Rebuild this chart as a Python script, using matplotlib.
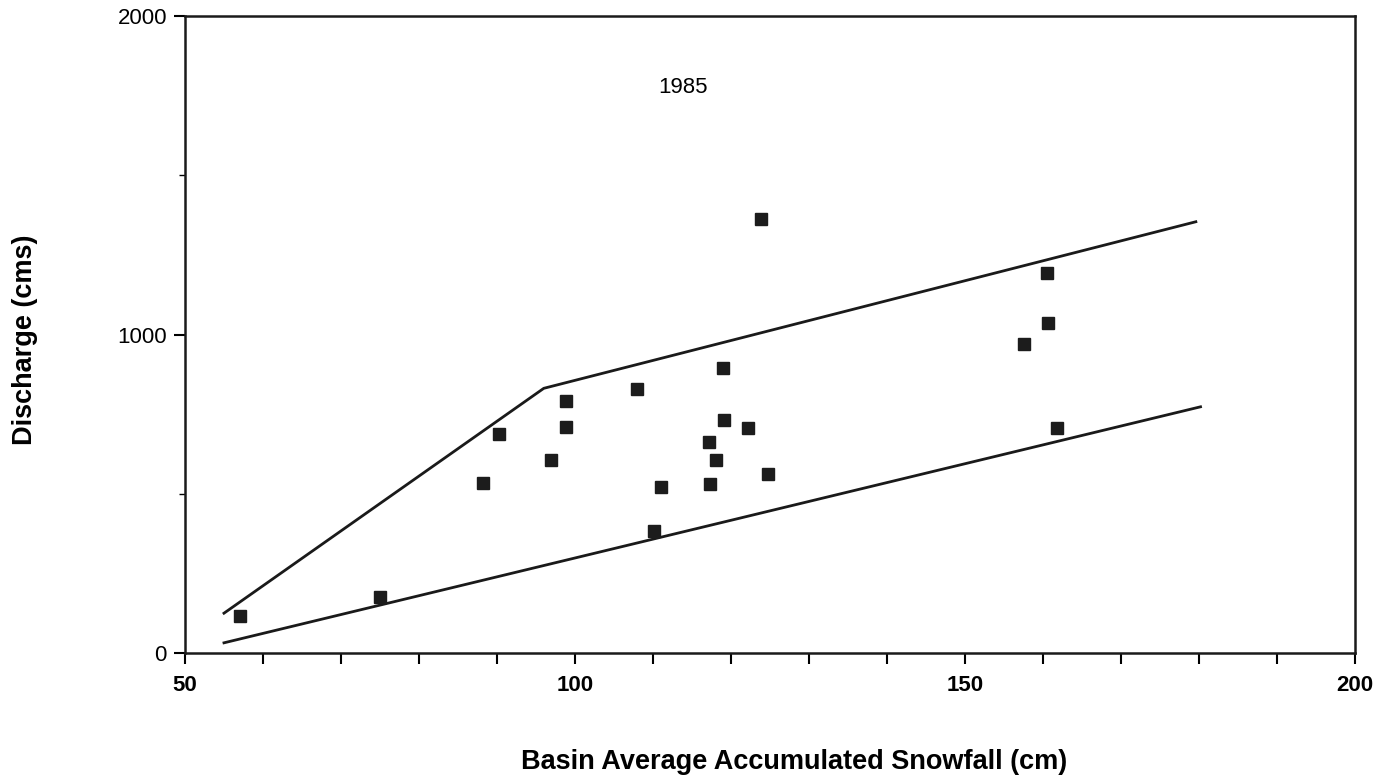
import numpy as np
import matplotlib
matplotlib.use('Agg')
import matplotlib.pyplot as plt
from matplotlib.ticker import MultipleLocator

plt.rcParams['font.family'] = ['Liberation Sans', 'DejaVu Sans']

# ---- Data Section ------------------------------------
# basin average accumulated snowfall (cm) vs. discharge (cms), 1985
snowfall = [57.0, 75.0, 88.2, 90.2, 96.9, 98.8, 98.9, 107.9, 111.0, 110.1,
            119.0, 119.1, 117.2, 118.1, 117.3, 122.2, 124.7, 123.9,
            160.5, 160.7, 157.6, 161.8]
discharge = [116, 176, 535, 688, 606, 792, 711, 829, 522, 383,
             896, 733, 663, 606, 532, 705, 561, 1362,
             1192, 1035, 970, 705]

# envelope lines drawn around the scatter
upper_x = [55.0, 96.0, 179.6]
upper_y = [125, 831, 1354]
lower_x = [55.0, 180.2]
lower_y = [32, 773]

year_label = '1985'
x_ticks = [50, 100, 150, 200]
y_ticks = [0, 1000, 2000]
# ------------------------------------------------------

fig = plt.figure(figsize=(13.95, 7.8), dpi=100)
ax = fig.add_axes([0.1326, 0.1628, 0.8387, 0.8167])

ax.plot(upper_x, upper_y, color='#1a1a1a', lw=2.0)
ax.plot(lower_x, lower_y, color='#1a1a1a', lw=2.0)
ax.plot(snowfall, discharge, ls='none', marker='s', ms=9,
        mfc='#1c1c1c', mec='#1c1c1c')

ax.text(113.8, 1775, year_label, ha='center', va='center', fontsize=16)

ax.set_xlim(50, 200)
ax.set_ylim(0, 2000)
ax.set_xticks(x_ticks)
ax.set_yticks(y_ticks)
ax.xaxis.set_minor_locator(MultipleLocator(10))
ax.yaxis.set_minor_locator(MultipleLocator(500))

ax.tick_params(axis='x', which='both', direction='out', length=8, width=1.5,
               labelsize=16, pad=8)
ax.tick_params(axis='y', which='major', direction='out', length=8, width=1.5,
               labelsize=16, pad=5)
ax.tick_params(axis='y', which='minor', direction='out', length=4, width=1.0)
for lbl in ax.get_xticklabels():
    lbl.set_fontweight('bold')

for side in ['top', 'right', 'bottom', 'left']:
    ax.spines[side].set_linewidth(1.8)
    ax.spines[side].set_color('#1a1a1a')

# axis titles
fig.text(0.569, 0.023, 'Basin Average Accumulated Snowfall (cm)',
         ha='center', va='center', fontsize=19.5, fontweight='bold')
fig.text(0.018, 0.565, 'Discharge (cms)', ha='center', va='center',
         rotation=90, fontsize=19.5, fontweight='bold')

fig.savefig('out.png', dpi=100)
